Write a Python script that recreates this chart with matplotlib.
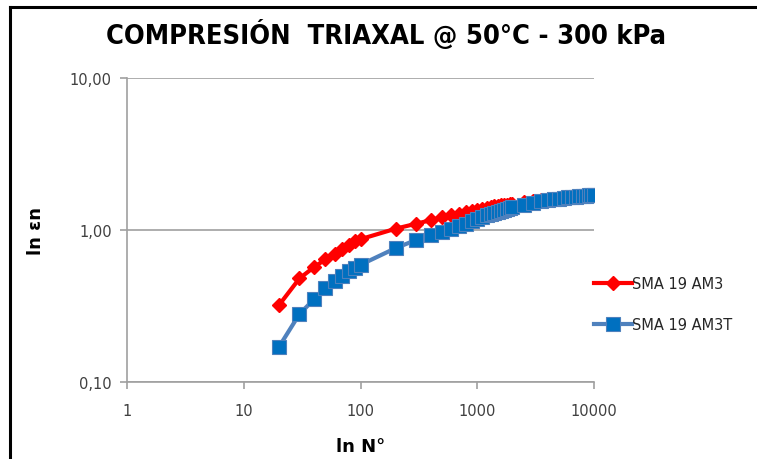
"""Compresion triaxal - deformacion vs numero de ciclos"""

import matplotlib.pyplot as plt
from matplotlib.lines import Line2D
from matplotlib.ticker import FixedLocator, NullLocator

# Datos #######################################################################
ciclos = [20, 30, 40, 50, 60, 70, 80, 90, 100,
          200, 300, 400, 500, 600, 700, 800, 900, 1000,
          1100, 1200, 1300, 1400, 1500, 1600, 1700, 1800, 1900, 2000,
          2500, 3000, 3500, 4000, 4500, 5000, 5500, 6000, 6500, 7000,
          7500, 8000, 8500, 9000, 9500, 10000]

am3 = [0.32, 0.48, 0.57, 0.64, 0.70, 0.75, 0.80, 0.84, 0.87,
       1.02, 1.10, 1.16, 1.21, 1.25, 1.28, 1.31, 1.34, 1.36,
       1.38, 1.40, 1.41, 1.43, 1.44, 1.45, 1.46, 1.47, 1.48, 1.49,
       1.52, 1.55, 1.57, 1.59, 1.60, 1.62, 1.63, 1.64, 1.65, 1.66,
       1.67, 1.68, 1.68, 1.69, 1.69, 1.70]

am3t = [0.17, 0.28, 0.35, 0.415, 0.46, 0.50, 0.535, 0.56, 0.59,
        0.76, 0.86, 0.92, 0.97, 1.02, 1.06, 1.10, 1.14, 1.18,
        1.22, 1.25, 1.27, 1.29, 1.31, 1.33, 1.35, 1.37, 1.39, 1.41,
        1.47, 1.51, 1.54, 1.57, 1.59, 1.61, 1.62, 1.64, 1.65, 1.66,
        1.67, 1.68, 1.68, 1.69, 1.70, 1.70]

series_names = ['SMA 19 AM3', 'SMA 19 AM3T']
x_ticks = [1, 10, 100, 1000, 10000]
x_tick_labels = ['1', '10', '100', '1000', '10000']
y_ticks = [0.1, 1, 10]
y_tick_labels = ['0,10', '1,00', '10,00']

# Figura ######################################################################
fig = plt.figure(figsize=(7.57, 4.6), dpi=100)
ax = fig.add_axes([0.1678, 0.1674, 0.6169, 0.6609])

# marco negro (izquierda y arriba, el resto queda recortado)
fig.add_artist(Line2D([10/757, 10/757], [0, 1 - 7.5/460], color='black',
                      linewidth=2.2, transform=fig.transFigure))
fig.add_artist(Line2D([10/757, 1], [1 - 7.5/460, 1 - 7.5/460], color='black',
                      linewidth=2.2, transform=fig.transFigure))

ax.plot(ciclos, am3, color='#FF0000', linewidth=3, marker='D', markersize=7,
        markerfacecolor='#FF0000', markeredgecolor='#FF0000',
        label=series_names[0], zorder=3)
ax.plot(ciclos, am3t, color='#4F81BD', linewidth=3, marker='s', markersize=10,
        markerfacecolor='#0070C0', markeredgecolor='#4F81BD', markeredgewidth=0.8,
        label=series_names[1], zorder=4)

ax.set_xscale('log')
ax.set_yscale('log')
ax.set_xlim(1, 10000)
ax.set_ylim(0.1, 10)

ax.xaxis.set_major_locator(FixedLocator(x_ticks))
ax.xaxis.set_minor_locator(NullLocator())
ax.set_xticklabels(x_tick_labels)
ax.yaxis.set_major_locator(FixedLocator(y_ticks))
ax.yaxis.set_minor_locator(NullLocator())
ax.set_yticklabels(y_tick_labels)

# grid horizontal solo
ax.grid(axis='y', color='#A0A0A0', linewidth=1.2)
ax.set_axisbelow(True)
for side in ['top', 'right']:
    ax.spines[side].set_visible(False)
for side in ['left', 'bottom']:
    ax.spines[side].set_color('#A0A0A0')
    ax.spines[side].set_linewidth(1.2)

ax.tick_params(axis='both', colors='#A0A0A0', length=5, width=1.2,
               labelcolor='#404040', labelsize=10.5)
ax.tick_params(axis='x', pad=10)
ax.tick_params(axis='y', pad=6)

# titulo centrado sobre el grafico completo
fig.text(386/757, 1 - 35/460, 'COMPRESIÓN  TRIAXAL @ 50°C - 300 kPa',
         fontsize=19.5, fontweight='bold', fontstretch='condensed',
         family='DejaVu Sans', ha='center', va='center')
ax.set_xlabel('ln N°', fontsize=13, fontweight='bold', labelpad=14)
ax.set_ylabel('ln εn', fontsize=13, fontweight='bold', labelpad=18)

ax.legend(loc='upper left', bbox_to_anchor=(588/757, 1 - 271/460),
          bbox_transform=fig.transFigure, frameon=False, fontsize=10.5,
          handlelength=2.6, handletextpad=0.05, labelspacing=1.8,
          borderaxespad=0, labelcolor='#262626')

plt.savefig('out.png', dpi=100)
